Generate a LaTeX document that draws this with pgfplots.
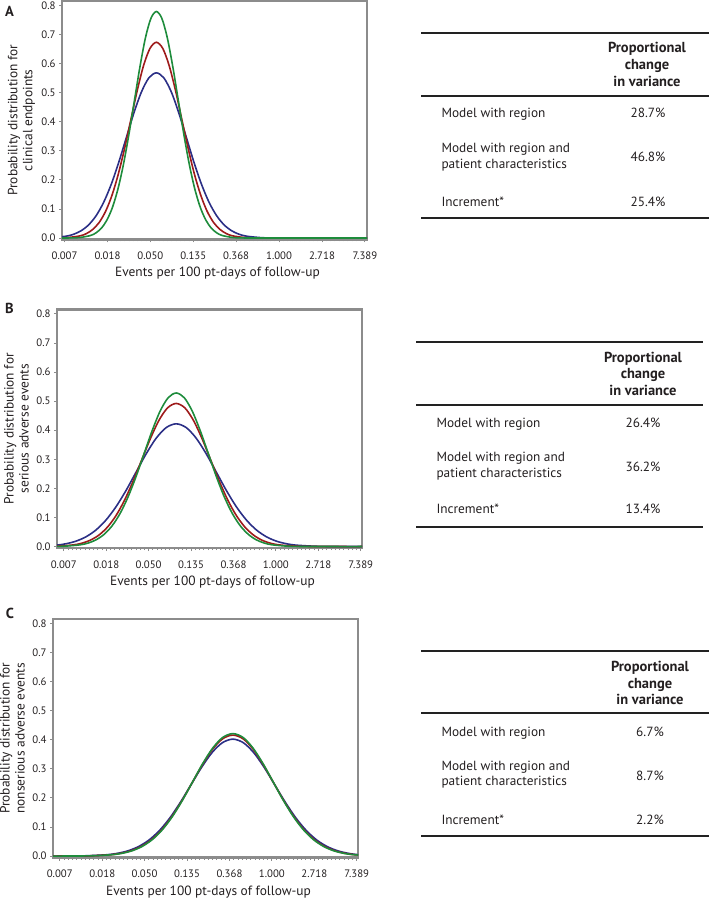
\documentclass[border=0pt]{standalone}
\usepackage{fontspec}
\setmainfont{PT Sans}
\usepackage{pgfplots}
\pgfplotsset{compat=1.18}
\definecolor{frame}{HTML}{8C8C8C}
\definecolor{cblue}{HTML}{2B2F86}
\definecolor{cred}{HTML}{9E1B1B}
\definecolor{cgreen}{HTML}{1E8C3C}
\definecolor{rulec}{HTML}{222222}
\definecolor{txt}{HTML}{231F20}

\pgfplotsset{panel/.style={
  scale only axis, width=305bp, height=238.5bp, anchor=north west,
  ymin=-0.005, ymax=0.815,
  axis line style={draw=frame, line width=2.6bp},
  xtick={-5,-4,-3,-2,-1,0,1,2},
  xticklabels={0.007,0.018,0.050,0.135,0.368,1.000,2.718,7.389},
  ytick={0,0.1,0.2,0.3,0.4,0.5,0.6,0.7,0.8},
  yticklabel style={/pgf/number format/.cd, fixed, fixed zerofill, precision=1},
  /pgf/number format/assume math mode=true,
  tick pos=left,
  tick align=outside, major tick length=3bp, minor tick length=2bp,
  minor x tick num=9,
  every tick/.style={draw=frame, line width=0.8bp},
  ticklabel style={font=\fontsize{10.8bp}{12bp}\selectfont, text=txt},
  xticklabel style={yshift=-6bp},
  xlabel={Events per 100 pt-days of follow-up},
  label style={font=\fontsize{13.4bp}{15bp}\selectfont, text=txt},
  xlabel style={at={(axis description cs:0.51,-0.143)}, anchor=center},
  ylabel style={at={(axis description cs:-0.133,0.5)}, anchor=center, align=center},
  every axis plot/.append style={line width=1.6bp, smooth, no markers},
}}
\newcommand\hdfont{\fontsize{14.5bp}{16bp}\selectfont\bfseries}

\begin{document}
\begin{tikzpicture}[x=1bp,y=1bp]
\useasboundingbox (0,0) rectangle (709,-898);

% ---------------- Panel A ----------------
\begin{axis}[panel, at={(62bp,-1bp)}, xmin=-5.06, xmax=2.05,
  ylabel={Probability distribution for\\clinical endpoints}]
\addplot[cblue] coordinates {(-5.668,0.0002)(-5.317,0.0012)(-4.966,0.0063)(-4.791,0.0129)(-4.615,0.0250)(-4.440,0.0452)(-4.264,0.0769)(-4.089,0.1228)(-3.913,0.1844)(-3.738,0.2600)(-3.562,0.3445)(-3.387,0.4287)(-3.211,0.5013)(-3.036,0.5505)(-2.860,0.5680)(-2.685,0.5505)(-2.509,0.5013)(-2.334,0.4287)(-2.158,0.3445)(-1.983,0.2600)(-1.807,0.1844)(-1.632,0.1228)(-1.456,0.0769)(-1.281,0.0452)(-1.105,0.0250)(-0.930,0.0129)(-0.754,0.0063)(-0.403,0.0012)(-0.052,0.0002)(0.6,0)(2.1,0)};
\addplot[cred] coordinates {(-5.232,0.0002)(-4.936,0.0015)(-4.639,0.0075)(-4.491,0.0153)(-4.343,0.0296)(-4.194,0.0535)(-4.046,0.0911)(-3.898,0.1456)(-3.750,0.2185)(-3.601,0.3081)(-3.453,0.4082)(-3.305,0.5080)(-3.157,0.5939)(-3.008,0.6523)(-2.860,0.6730)(-2.712,0.6523)(-2.564,0.5939)(-2.415,0.5080)(-2.267,0.4082)(-2.119,0.3081)(-1.971,0.2185)(-1.822,0.1456)(-1.674,0.0911)(-1.526,0.0535)(-1.378,0.0296)(-1.229,0.0153)(-1.081,0.0075)(-0.785,0.0015)(-0.488,0.0002)(0.3,0)(2.1,0)};
\addplot[cgreen] coordinates {(-5.2,0)(-4.908,0.0003)(-4.652,0.0017)(-4.396,0.0087)(-4.268,0.0178)(-4.140,0.0342)(-4.012,0.0620)(-3.884,0.1054)(-3.756,0.1685)(-3.628,0.2529)(-3.500,0.3567)(-3.372,0.4725)(-3.244,0.5880)(-3.116,0.6875)(-2.988,0.7550)(-2.860,0.7790)(-2.732,0.7550)(-2.604,0.6875)(-2.476,0.5880)(-2.348,0.4725)(-2.220,0.3567)(-2.092,0.2529)(-1.964,0.1685)(-1.836,0.1054)(-1.708,0.0620)(-1.580,0.0342)(-1.452,0.0178)(-1.324,0.0087)(-1.068,0.0017)(-0.812,0.0003)(0,0)(2.1,0)};
\end{axis}

% ---------------- Panel B ----------------
\begin{axis}[panel, at={(57bp,-309.5bp)}, xmin=-5.16, xmax=2.03,
  ylabel={Probability distribution for\\serious adverse events}]
\addplot[cblue] coordinates {(-6.130,0.0001)(-5.658,0.0009)(-5.185,0.0047)(-4.949,0.0096)(-4.713,0.0185)(-4.476,0.0336)(-4.240,0.0571)(-4.004,0.0913)(-3.768,0.1370)(-3.531,0.1932)(-3.295,0.2560)(-3.059,0.3185)(-2.823,0.3724)(-2.586,0.4090)(-2.350,0.4220)(-2.114,0.4090)(-1.878,0.3724)(-1.641,0.3185)(-1.405,0.2560)(-1.169,0.1932)(-0.933,0.1370)(-0.696,0.0913)(-0.460,0.0571)(-0.224,0.0336)(0.013,0.0185)(0.249,0.0096)(0.485,0.0047)(0.958,0.0009)(1.430,0.0001)(2.1,0)};
\addplot[cred] coordinates {(-5.594,0.0002)(-5.189,0.0011)(-4.783,0.0055)(-4.580,0.0112)(-4.378,0.0216)(-4.175,0.0391)(-3.972,0.0666)(-3.769,0.1064)(-3.567,0.1597)(-3.364,0.2253)(-3.161,0.2984)(-2.958,0.3714)(-2.756,0.4342)(-2.553,0.4769)(-2.350,0.4920)(-2.147,0.4769)(-1.945,0.4342)(-1.742,0.3714)(-1.539,0.2984)(-1.336,0.2253)(-1.134,0.1597)(-0.931,0.1064)(-0.728,0.0666)(-0.525,0.0391)(-0.323,0.0216)(-0.120,0.0112)(0.083,0.0055)(0.489,0.0011)(0.894,0.0002)(1.6,0)(2.1,0)};
\addplot[cgreen] coordinates {(-5.370,0.0002)(-4.993,0.0012)(-4.615,0.0059)(-4.426,0.0120)(-4.238,0.0232)(-4.049,0.0420)(-3.860,0.0715)(-3.671,0.1142)(-3.483,0.1714)(-3.294,0.2417)(-3.105,0.3203)(-2.916,0.3986)(-2.728,0.4660)(-2.539,0.5118)(-2.350,0.5280)(-2.161,0.5118)(-1.973,0.4660)(-1.784,0.3986)(-1.595,0.3203)(-1.406,0.2417)(-1.218,0.1714)(-1.029,0.1142)(-0.840,0.0715)(-0.651,0.0420)(-0.463,0.0232)(-0.274,0.0120)(-0.085,0.0059)(0.293,0.0012)(0.670,0.0002)(1.4,0)(2.1,0)};
\end{axis}

% ---------------- Panel C ----------------
\begin{axis}[panel, at={(53bp,-619bp)}, xmin=-5.16, xmax=2.03,
  ylabel={Probability distribution for\\nonserious adverse events}]
\addplot[cblue] coordinates {(-5.3,0)(-4.888,0.0001)(-4.392,0.0009)(-3.896,0.0045)(-3.648,0.0092)(-3.400,0.0177)(-3.152,0.0320)(-2.904,0.0544)(-2.656,0.0869)(-2.408,0.1305)(-2.160,0.1841)(-1.912,0.2438)(-1.664,0.3035)(-1.416,0.3548)(-1.168,0.3896)(-0.920,0.4020)(-0.672,0.3896)(-0.424,0.3548)(-0.176,0.3035)(0.072,0.2438)(0.320,0.1841)(0.568,0.1305)(0.816,0.0869)(1.064,0.0544)(1.312,0.0320)(1.560,0.0177)(1.808,0.0092)(2.056,0.0045)(2.552,0.0009)};
\addplot[cred] coordinates {(-5.3,0)(-4.756,0.0001)(-4.277,0.0009)(-3.797,0.0046)(-3.557,0.0095)(-3.318,0.0183)(-3.078,0.0331)(-2.838,0.0563)(-2.598,0.0900)(-2.359,0.1351)(-2.119,0.1905)(-1.879,0.2523)(-1.639,0.3140)(-1.400,0.3671)(-1.160,0.4032)(-0.920,0.4160)(-0.680,0.4032)(-0.441,0.3671)(-0.201,0.3140)(0.039,0.2523)(0.279,0.1905)(0.519,0.1351)(0.758,0.0900)(0.998,0.0563)(1.238,0.0331)(1.478,0.0183)(1.717,0.0095)(1.957,0.0046)(2.437,0.0009)};
\addplot[cgreen] coordinates {(-5.3,0)(-4.712,0.0001)(-4.238,0.0009)(-3.764,0.0047)(-3.527,0.0096)(-3.290,0.0185)(-3.053,0.0335)(-2.816,0.0570)(-2.579,0.0911)(-2.342,0.1367)(-2.105,0.1928)(-1.868,0.2554)(-1.631,0.3178)(-1.394,0.3715)(-1.157,0.4081)(-0.920,0.4210)(-0.683,0.4081)(-0.446,0.3715)(-0.209,0.3178)(0.028,0.2554)(0.265,0.1928)(0.502,0.1367)(0.739,0.0911)(0.976,0.0570)(1.213,0.0335)(1.450,0.0185)(1.687,0.0096)(1.924,0.0047)(2.398,0.0009)};
\end{axis}

% ---------------- Panel letters ----------------
\begin{scope}[font=\fontsize{14.5bp}{16bp}\selectfont\bfseries, text=txt]
\node at (9.5,-11) {A};
\node at (9.5,-308) {B};
\node at (10,-613) {C};
\end{scope}

% ---------------- Tables ----------------
\begin{scope}[font=\fontsize{13.3bp}{16bp}\selectfont, text=txt]
% Table A
\draw[rulec, line width=1.8bp] (421,-33) -- (709,-33);
\draw[rulec, line width=1.8bp] (421,-96) -- (709,-96);
\draw[rulec, line width=1.8bp] (421,-218) -- (709,-218);
\node[anchor=base, font=\hdfont] at (647,-52) {Proportional};
\node[anchor=base, font=\hdfont] at (647,-69) {change};
\node[anchor=base, font=\hdfont] at (647,-86) {in variance};
\node[anchor=base west] at (438,-117) {Model with region};
\node[anchor=base west] at (438,-152) {Model with region and};
\node[anchor=base west] at (438,-168) {patient characteristics};
\node[anchor=base west] at (438,-206) {Increment*};
\node[anchor=base] at (648,-117) {28.7\%};
\node[anchor=base] at (648,-161) {46.8\%};
\node[anchor=base] at (648,-206) {25.4\%};
% Table B
\draw[rulec, line width=1.8bp] (416,-342) -- (703,-342);
\draw[rulec, line width=1.8bp] (416,-405) -- (703,-405);
\draw[rulec, line width=1.8bp] (416,-527) -- (703,-527);
\node[anchor=base, font=\hdfont] at (643,-362) {Proportional};
\node[anchor=base, font=\hdfont] at (643,-378) {change};
\node[anchor=base, font=\hdfont] at (643,-395) {in variance};
\node[anchor=base west] at (433,-427) {Model with region};
\node[anchor=base west] at (433,-461) {Model with region and};
\node[anchor=base west] at (433,-477) {patient characteristics};
\node[anchor=base west] at (433,-513) {Increment*};
\node[anchor=base] at (643,-427) {26.4\%};
\node[anchor=base] at (643,-471) {36.2\%};
\node[anchor=base] at (643,-513) {13.4\%};
% Table C
\draw[rulec, line width=1.8bp] (421,-651) -- (709,-651);
\draw[rulec, line width=1.8bp] (421,-713) -- (709,-713);
\draw[rulec, line width=1.8bp] (421,-836) -- (709,-836);
\node[anchor=base, font=\hdfont] at (650,-671) {Proportional};
\node[anchor=base, font=\hdfont] at (650,-688) {change};
\node[anchor=base, font=\hdfont] at (650,-704) {in variance};
\node[anchor=base west] at (438,-736) {Model with region};
\node[anchor=base west] at (438,-770) {Model with region and};
\node[anchor=base west] at (438,-785) {patient characteristics};
\node[anchor=base west] at (438,-824) {Increment*};
\node[anchor=base] at (650,-736) {6.7\%};
\node[anchor=base] at (650,-780) {8.7\%};
\node[anchor=base] at (650,-824) {2.2\%};
\end{scope}
\end{tikzpicture}
\end{document}
